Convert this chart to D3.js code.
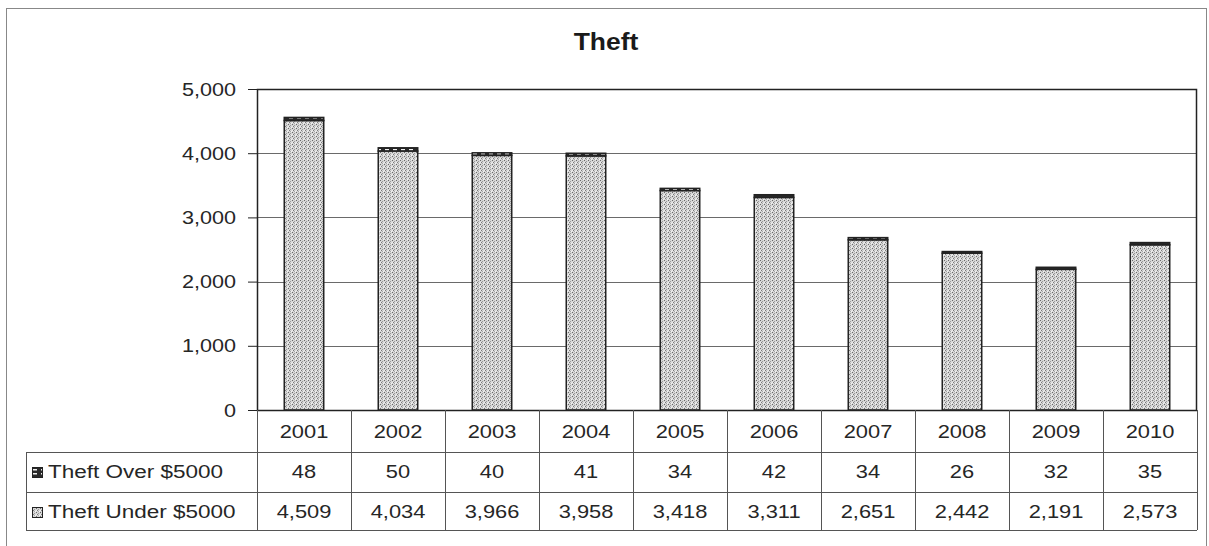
<!DOCTYPE html>
<html><head><meta charset="utf-8">
<script src="https://cdn.jsdelivr.net/npm/d3@7"></script>
<style>body{margin:0;background:#fff}svg{display:block}text{font-family:"Liberation Sans",Arial,sans-serif;fill:#262626}</style>
</head><body><div id="c"></div>
<script>
const years = ["2001","2002","2003","2004","2005","2006","2007","2008","2009","2010"];
const theftOver = [48,50,40,41,34,42,34,26,32,35];
const theftUnder = [4509,4034,3966,3958,3418,3311,2651,2442,2191,2573];
const seriesNames = ["Theft Over $5000","Theft Under $5000"];
const yTicks = [0,1000,2000,3000,4000,5000];
const chartTitle = "Theft";

(function(){
const W = 1209, H = 546;
const svg = d3.select("#c").append("svg").attr("width",W).attr("height",H);
const defs = svg.append("defs");
const p1 = defs.append("pattern").attr("id","stip").attr("patternUnits","userSpaceOnUse").attr("width",4).attr("height",4);
p1.append("rect").attr("width",4).attr("height",4).attr("fill","#d6d6d6");
[[0,0,"#6a6a6a"],[2,1,"#9a9a9a"],[1,2,"#7a7a7a"],[3,3,"#f4f4f4"],[2,3,"#a8a8a8"],[0,2,"#eeeeee"]].forEach(d=>p1.append("rect").attr("x",d[0]).attr("y",d[1]).attr("width",1).attr("height",1).attr("fill",d[2]));
const p2 = defs.append("pattern").attr("id","overp").attr("patternUnits","userSpaceOnUse").attr("width",8).attr("height",4);
p2.append("rect").attr("width",8).attr("height",4).attr("fill","#2a2a2a");
p2.append("rect").attr("x",1).attr("y",1).attr("width",4).attr("height",1.5).attr("fill","#f0f0f0");

const pL = 257, pR = 1197, pT = 89, pB = 410;
const x = d3.scaleBand().domain(years).range([pL,pR]).padding(0);
const y = d3.scaleLinear().domain([0,5000]).range([pB,pT]);

function stext(g, tx, ty, str, anchor, size, sx, weight){
  return g.append("text").attr("transform",`translate(${tx},${ty}) scale(${sx},1)`)
    .attr("text-anchor",anchor).attr("font-size",size).attr("font-weight",weight||"normal").text(str);
}

svg.append("rect").attr("x",6.5).attr("y",8.5).attr("width",1200).attr("height",540).attr("fill","none").attr("stroke","#888").attr("stroke-width",1);

stext(svg, 606, 50, chartTitle, "middle", 23, 1.15, "bold").style("fill","#1a1a1a");

svg.append("g").selectAll("line").data(yTicks.filter(t=>t>0 && t<5000)).join("line")
  .attr("x1",pL).attr("x2",pR).attr("y1",d=>Math.round(y(d))+0.5).attr("y2",d=>Math.round(y(d))+0.5)
  .attr("stroke","#6a6a6a").attr("stroke-width",1);

const bw = x.bandwidth()*0.42;
const bars = svg.append("g");
bars.selectAll("rect.u").data(years).join("rect").attr("class","u")
  .attr("x",d=>x(d)+(x.bandwidth()-bw)/2).attr("width",bw)
  .attr("y",(d,i)=>y(theftUnder[i])).attr("height",(d,i)=>pB-y(theftUnder[i]))
  .attr("fill","url(#stip)").attr("stroke","#222").attr("stroke-width",1.5);
bars.selectAll("rect.o").data(years).join("rect").attr("class","o")
  .attr("x",d=>x(d)+(x.bandwidth()-bw)/2).attr("width",bw)
  .attr("y",(d,i)=>y(theftUnder[i]+theftOver[i])).attr("height",(d,i)=>y(theftUnder[i])-y(theftUnder[i]+theftOver[i]))
  .attr("fill","url(#overp)").attr("stroke","#222").attr("stroke-width",1.5);

svg.append("rect").attr("x",pL+0.5).attr("y",pT+0.5).attr("width",pR-pL-1).attr("height",pB-pT).attr("fill","none").attr("stroke","#222").attr("stroke-width",1.5);

const ya = svg.append("g");
ya.selectAll("line").data(yTicks).join("line").attr("x1",pL-9).attr("x2",pL).attr("y1",d=>y(d)+0.5).attr("y2",d=>y(d)+0.5).attr("stroke","#222");
yTicks.forEach(t=>stext(ya, pL-21, y(t)+6.5, d3.format(",")(t), "end", 18, 1.2));

const rowY = [pB, 452, 492, 530];
const tg = svg.append("g");
const tcol = "#555";
[1,2,3].forEach(k=>tg.append("line").attr("x1",26).attr("x2",pR).attr("y1",rowY[k]+0.5).attr("y2",rowY[k]+0.5).attr("stroke",tcol));
tg.append("line").attr("x1",26.5).attr("x2",26.5).attr("y1",rowY[1]).attr("y2",rowY[3]).attr("stroke",tcol);
tg.selectAll("line.v").data(years.concat(["end"])).join("line").attr("class","v")
  .attr("x1",(d,i)=>Math.round(pL+i*x.step())+0.5).attr("x2",(d,i)=>Math.round(pL+i*x.step())+0.5)
  .attr("y1",pB).attr("y2",rowY[3]).attr("stroke",tcol);
years.forEach(yr=>stext(tg, x(yr)+x.bandwidth()/2, 438, yr, "middle", 17.5, 1.25));
theftOver.forEach((v,i)=>stext(tg, x(years[i])+x.bandwidth()/2, 478, d3.format(",")(v), "middle", 17.5, 1.25));
theftUnder.forEach((v,i)=>stext(tg, x(years[i])+x.bandwidth()/2, 518, d3.format(",")(v), "middle", 17.5, 1.25));
tg.append("rect").attr("x",32.5).attr("y",467.5).attr("width",10).attr("height",10).attr("fill","url(#overp)").attr("stroke","#222");
tg.append("rect").attr("x",32.5).attr("y",507.5).attr("width",10).attr("height",10).attr("fill","url(#stip)").attr("stroke","#222");
stext(tg, 48, 478, seriesNames[0], "start", 18, 1.25);
stext(tg, 48, 518, seriesNames[1], "start", 18, 1.25);
})();
</script></body></html>
